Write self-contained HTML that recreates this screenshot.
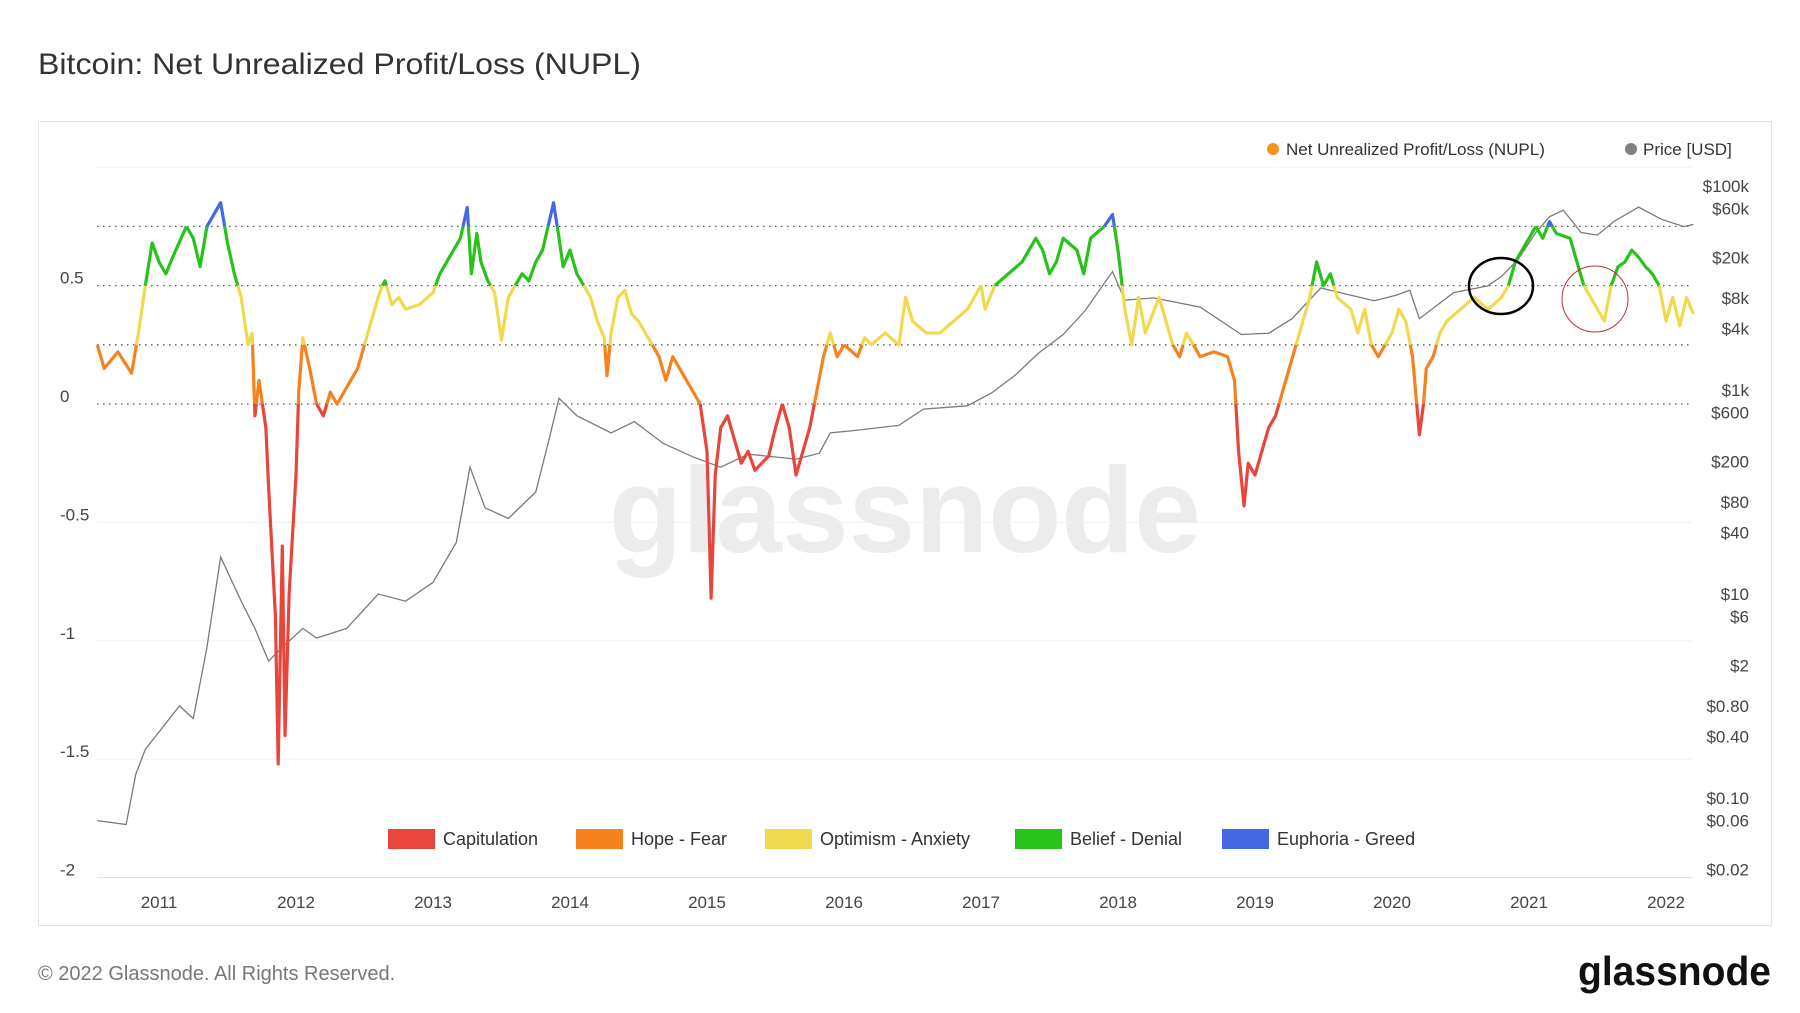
<!DOCTYPE html>
<html><head><meta charset="utf-8">
<style>
body{margin:0;background:#fff;width:1800px;height:1013px;overflow:hidden;font-family:"Liberation Sans",sans-serif;}
svg{position:absolute;left:0;top:0}
</style></head>
<body>
<svg id="chart" width="1800" height="1013" viewBox="0 0 1800 1013">
<text x="38" y="74" font-size="30" fill="#333" textLength="603" lengthAdjust="spacingAndGlyphs">Bitcoin: Net Unrealized Profit/Loss (NUPL)</text>
<rect x="38.5" y="121.5" width="1733" height="804" fill="none" stroke="#e3e3e3"/>
<text x="905" y="552" font-size="122" fill="#ececec" text-anchor="middle" font-weight="bold" textLength="592" lengthAdjust="spacingAndGlyphs">glassnode</text>
<g id="grid"></g>
<g id="ylabels"></g>
<g id="plabels"></g>
<g id="xlabels"></g>
<g id="price"></g>
<g id="nupl"></g>
<ellipse cx="1501" cy="286" rx="32" ry="28" fill="none" stroke="#000" stroke-width="2.5"/>
<circle cx="1595" cy="299" r="33" fill="none" stroke="#c0303a" stroke-width="1"/>
<g>
<circle cx="1273" cy="149" r="6" fill="#f7931a"/>
<text x="1286" y="155" font-size="17" fill="#333">Net Unrealized Profit/Loss (NUPL)</text>
<circle cx="1631" cy="149" r="6" fill="#808080"/>
<text x="1643" y="155" font-size="17" fill="#333">Price [USD]</text>
</g>
<g id="bottomlegend"></g>
<text x="38" y="980" font-size="20" fill="#777">© 2022 Glassnode. All Rights Reserved.</text>
<text x="1771" y="985" font-size="41" fill="#111" text-anchor="end" font-weight="bold" textLength="193" lengthAdjust="spacingAndGlyphs">glassnode</text>
</svg>
<script>
const nuplDates=[2010.55,2010.6,2010.7,2010.8,2010.85,2010.9,2010.95,2011.0,2011.05,2011.1,2011.2,2011.25,2011.3,2011.35,2011.4,2011.45,2011.5,2011.55,2011.6,2011.65,2011.68,2011.7,2011.73,2011.78,2011.8,2011.85,2011.87,2011.9,2011.92,2011.95,2012.0,2012.02,2012.05,2012.1,2012.15,2012.2,2012.25,2012.3,2012.35,2012.4,2012.45,2012.5,2012.55,2012.6,2012.63,2012.65,2012.7,2012.75,2012.8,2012.9,2013.0,2013.05,2013.1,2013.2,2013.25,2013.28,2013.32,2013.35,2013.4,2013.45,2013.5,2013.55,2013.6,2013.65,2013.7,2013.75,2013.8,2013.88,2013.92,2013.95,2014.0,2014.05,2014.1,2014.15,2014.2,2014.25,2014.27,2014.3,2014.35,2014.4,2014.45,2014.5,2014.6,2014.65,2014.7,2014.75,2014.8,2014.85,2014.9,2014.95,2015.0,2015.03,2015.06,2015.1,2015.15,2015.2,2015.25,2015.3,2015.35,2015.4,2015.45,2015.5,2015.55,2015.6,2015.65,2015.7,2015.75,2015.8,2015.85,2015.9,2015.95,2016.0,2016.1,2016.15,2016.2,2016.3,2016.4,2016.45,2016.5,2016.6,2016.7,2016.8,2016.9,2016.95,2017.0,2017.03,2017.1,2017.2,2017.3,2017.4,2017.45,2017.5,2017.55,2017.6,2017.7,2017.75,2017.8,2017.9,2017.96,2018.0,2018.05,2018.1,2018.15,2018.2,2018.3,2018.35,2018.4,2018.45,2018.5,2018.6,2018.7,2018.8,2018.85,2018.88,2018.92,2018.95,2019.0,2019.05,2019.1,2019.15,2019.2,2019.25,2019.3,2019.35,2019.4,2019.45,2019.5,2019.55,2019.6,2019.7,2019.75,2019.8,2019.85,2019.9,2019.95,2020.0,2020.05,2020.1,2020.15,2020.2,2020.23,2020.25,2020.3,2020.35,2020.4,2020.5,2020.6,2020.7,2020.8,2020.85,2020.9,2020.95,2021.0,2021.05,2021.1,2021.15,2021.2,2021.3,2021.35,2021.4,2021.45,2021.5,2021.55,2021.6,2021.65,2021.7,2021.75,2021.8,2021.85,2021.9,2021.95,2022.0,2022.05,2022.1,2022.15,2022.2];
const nuplValues=[0.25,0.15,0.22,0.13,0.3,0.5,0.68,0.6,0.55,0.62,0.75,0.7,0.58,0.75,0.8,0.85,0.68,0.55,0.45,0.25,0.3,-0.05,0.1,-0.1,-0.35,-0.9,-1.52,-0.6,-1.4,-0.8,-0.3,0.05,0.28,0.15,0.0,-0.05,0.05,0.0,0.05,0.1,0.15,0.25,0.35,0.45,0.5,0.52,0.42,0.45,0.4,0.42,0.47,0.55,0.6,0.7,0.83,0.55,0.72,0.6,0.52,0.47,0.27,0.45,0.5,0.55,0.52,0.6,0.65,0.85,0.7,0.58,0.65,0.55,0.5,0.45,0.35,0.28,0.12,0.3,0.45,0.48,0.38,0.35,0.25,0.2,0.1,0.2,0.15,0.1,0.05,0.0,-0.2,-0.82,-0.3,-0.1,-0.05,-0.15,-0.25,-0.2,-0.28,-0.25,-0.22,-0.1,0.0,-0.1,-0.3,-0.2,-0.1,0.05,0.2,0.3,0.2,0.25,0.2,0.28,0.25,0.3,0.25,0.45,0.35,0.3,0.3,0.35,0.4,0.45,0.5,0.4,0.5,0.55,0.6,0.7,0.65,0.55,0.6,0.7,0.65,0.55,0.7,0.75,0.8,0.65,0.4,0.25,0.45,0.3,0.45,0.35,0.25,0.2,0.3,0.2,0.22,0.2,0.1,-0.2,-0.43,-0.25,-0.3,-0.2,-0.1,-0.05,0.05,0.15,0.25,0.35,0.45,0.6,0.5,0.55,0.45,0.4,0.3,0.4,0.25,0.2,0.25,0.3,0.4,0.35,0.2,-0.13,0.0,0.15,0.2,0.3,0.35,0.4,0.45,0.4,0.45,0.5,0.6,0.65,0.7,0.75,0.7,0.77,0.72,0.7,0.6,0.5,0.45,0.4,0.35,0.5,0.58,0.6,0.65,0.62,0.58,0.55,0.5,0.35,0.45,0.33,0.45,0.38];
const priceDates=[2010.55,2010.76,2010.83,2010.9,2011.15,2011.25,2011.35,2011.45,2011.6,2011.7,2011.8,2011.9,2012.05,2012.15,2012.37,2012.6,2012.8,2013.0,2013.17,2013.27,2013.38,2013.55,2013.75,2013.84,2013.92,2014.05,2014.3,2014.47,2014.68,2014.9,2015.1,2015.3,2015.65,2015.82,2015.9,2016.07,2016.4,2016.58,2016.9,2017.08,2017.25,2017.42,2017.6,2017.76,2017.96,2018.05,2018.26,2018.6,2018.9,2019.1,2019.27,2019.48,2019.7,2019.87,2020.03,2020.13,2020.2,2020.45,2020.7,2020.8,2020.92,2021.05,2021.15,2021.25,2021.38,2021.5,2021.62,2021.8,2021.97,2022.13,2022.2];
const priceValues=[0.06,0.055,0.17,0.3,0.8,0.6,3,23,8.5,4.6,2.2,3,4.6,3.7,4.6,10,8.5,13,32,175,70,55,100,300,830,560,380,490,300,220,175,235,210,240,380,400,450,650,700,940,1400,2300,3500,6000,14500,7600,8000,6500,3500,3600,5000,10000,8500,7500,8500,9500,5000,9000,10500,13000,19000,35000,50000,58000,35000,33000,45000,62000,47000,40000,42000];
const yTicks=[0.5,0,-0.5,-1,-1.5,-2];
const yTickLabels=["0.5","0","-0.5","-1","-1.5","-2"];
const priceTicks=[100000,60000,20000,8000,4000,1000,600,200,80,40,10,6,2,0.8,0.4,0.1,0.06,0.02];
const priceTickLabels=["$100k","$60k","$20k","$8k","$4k","$1k","$600","$200","$80","$40","$10","$6","$2","$0.80","$0.40","$0.10","$0.06","$0.02"];
const years=[2011,2012,2013,2014,2015,2016,2017,2018,2019,2020,2021,2022];
const zoneNames=["Capitulation","Hope - Fear","Optimism - Anxiety","Belief - Denial","Euphoria - Greed"];
const zoneColors=["#e8453c","#f5821f","#f1d94f","#28c21a","#4467e3"];
const zoneBounds=[0,0.25,0.5,0.75];

const NS="http://www.w3.org/2000/svg";
const X=d=>159+(d-2011)*137;
const Y=v=>404-v*236.8;
const P=p=>186+(5-Math.log10(p))*102;
function mk(tag,attrs,parent){const e=document.createElementNS(NS,tag);for(const k in attrs)e.setAttribute(k,attrs[k]);parent.appendChild(e);return e;}

const grid=document.getElementById('grid');
[1,-0.5,-1,-1.5,-2].forEach(v=>{
  const l=mk('line',{x1:97,x2:1692,y1:Y(v),y2:Y(v),stroke:v===-2?'#ddd':'#f0f0f0','stroke-width':1},grid);
  
  
});
[0.75,0.5,0.25,0].forEach(v=>{
  const l=mk('line',{x1:97,x2:1692,y1:Y(v),y2:Y(v),stroke:'#555','stroke-width':1.3,'stroke-dasharray':'1.5 4.5'},grid);
  
  
});
const yl=document.getElementById('ylabels');
yTicks.forEach((v,i)=>{
  const t=mk('text',{x:60,y:Y(v)-2,'font-size':17,fill:'#444'},yl);t.textContent=yTickLabels[i];
  
  
});
const pl=document.getElementById('plabels');
priceTicks.forEach((p,i)=>{
  const t=mk('text',{x:1749,y:P(p)+6,'font-size':17,fill:'#444','text-anchor':'end'},pl);t.textContent=priceTickLabels[i];
  
  
});
const xl=document.getElementById('xlabels');
years.forEach(y=>{
  const t=mk('text',{x:X(y),y:908,'font-size':17,fill:'#444','text-anchor':'middle'},xl);t.textContent=y;
  
  
});
const pr=document.getElementById('price');
const pline=mk('polyline',{points:priceDates.map((d,i)=>X(d)+','+P(priceValues[i])).join(' '),fill:'none',stroke:'#7a7a7a','stroke-width':1.3},pr);


function zone(v){let z=0;zoneBounds.forEach(b=>{if(v>=b)z++;});return z;}
const ng=document.getElementById('nupl');
let pts=[[nuplDates[0],nuplValues[0]]],cur=zone(nuplValues[0]);
function flush(z){
  const l=mk('polyline',{points:pts.map(p=>X(p[0])+','+Y(p[1])).join(' '),fill:'none',stroke:zoneColors[z],'stroke-width':3.2,'stroke-linejoin':'round'},ng);
  
  
}
for(let i=1;i<nuplDates.length;i++){
  const d0=nuplDates[i-1],v0=nuplValues[i-1],d1=nuplDates[i],v1=nuplValues[i];
  const z1=zone(v1);
  if(z1!==cur){
    const cross=zoneBounds.filter(b=>(b>Math.min(v0,v1)&&b<=Math.max(v0,v1)));
    if(v1<v0)cross.reverse();
    cross.forEach(b=>{
      const dd=d0+(d1-d0)*(b-v0)/(v1-v0);
      pts.push([dd,b]);flush(cur);pts=[[dd,b]];
      cur=v1>v0?zone(b):zone(b)-1;
    });
    cur=z1;
  }
  pts.push([d1,v1]);
}
flush(cur);
const bl=document.getElementById('bottomlegend');
const lx=[388,576,765,1015,1222];
zoneNames.forEach((n,i)=>{
  const r=mk('rect',{x:lx[i],y:829,width:47,height:20,fill:zoneColors[i]},bl);
  
  
  const t=mk('text',{x:lx[i]+55,y:845,'font-size':18,fill:'#333'},bl);t.textContent=n;
  
  
});
</script>
</body></html>
